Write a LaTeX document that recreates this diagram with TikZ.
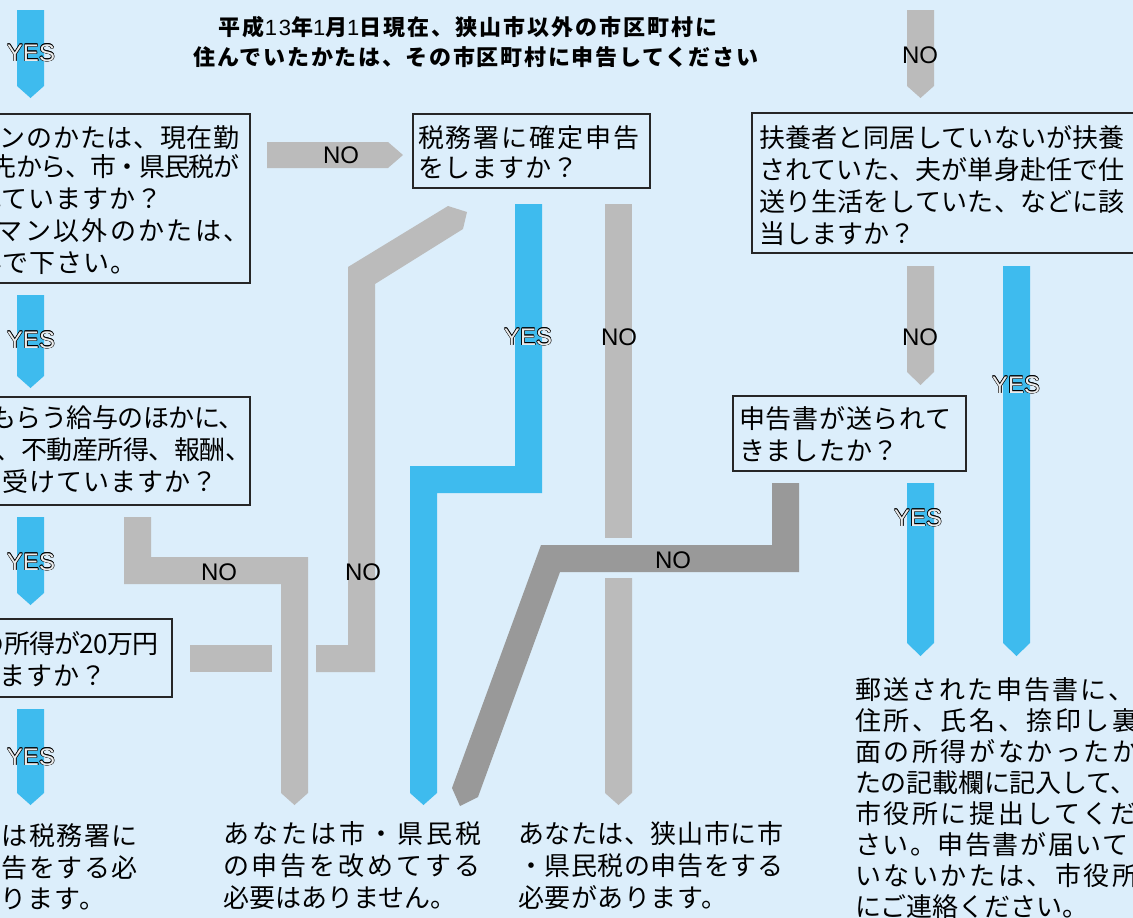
\documentclass[tikz,border=0pt]{standalone}
\usepackage{fontspec}
\usetikzlibrary{fit}
\setmainfont{Liberation Sans}
\newfontfamily\jp{Noto Sans CJK JP}
\definecolor{bg}{RGB}{220,238,251}
\definecolor{ablue}{RGB}{62,187,238}
\definecolor{agray}{RGB}{187,187,187}
\definecolor{adark}{RGB}{153,153,153}
\newlength\ow \setlength\ow{0.5pt}
\newcommand\outl[1]{\leavevmode\hbox{%
 \rlap{\kern\ow\textcolor{black}{#1}}%
 \rlap{\kern-\ow\textcolor{black}{#1}}%
 \rlap{\raisebox{\ow}{\textcolor{black}{#1}}}%
 \rlap{\raisebox{-\ow}{\textcolor{black}{#1}}}%
 \rlap{\kern0.7\ow\raisebox{0.7\ow}{\textcolor{black}{#1}}}%
 \rlap{\kern-0.7\ow\raisebox{0.7\ow}{\textcolor{black}{#1}}}%
 \rlap{\kern0.7\ow\raisebox{-0.7\ow}{\textcolor{black}{#1}}}%
 \rlap{\kern-0.7\ow\raisebox{-0.7\ow}{\textcolor{black}{#1}}}%
 \textcolor{white!92!black}{#1}}}
% name, x, centre y, pitch(px), hidden prefix, text   (font 26px = 19.5pt)
\newcommand\jline[6]{%
 \pgfmathsetmacro\jls{(#4-26)/0.26}%
 \node[anchor=base west,inner sep=0pt,outer sep=0pt] (#1) at (#2,#3+10)
  {\jp\fontsize{19.5pt}{19.5pt}\selectfont\edef\jtmp{\noexpand\addfontfeature{LetterSpace=\jls}}\jtmp\llap{#5}#6};}
\tikzset{
 blk/.style={fill=ablue,draw=none},
 gry/.style={fill=agray,draw=none},
 drk/.style={fill=adark,draw=none},
 qbox/.style={draw=black!85,line width=0.8pt,inner sep=0pt,fill=none},
 nolab/.style={font=\fontsize{18pt}{18pt}\selectfont,text=black,inner sep=0pt},
 yeslab/.style={font=\fontsize{18pt}{18pt}\selectfont,inner sep=0pt}
}
\begin{document}
\begin{tikzpicture}[x=0.75pt,y=-0.75pt]
\useasboundingbox (0,0) rectangle (1133,918);
\clip (0,0) rectangle (1133,918);
\fill[bg] (0,0) rectangle (1133,918);

% ---- title
\node[anchor=base,inner sep=0pt] (title1) at (468,35)
 {\fontsize{16.5pt}{16.5pt}\selectfont\addfontfeature{LetterSpace=8}{\jp\bfseries\addfontfeature{LetterSpace=9}平成}13{\jp\bfseries\addfontfeature{LetterSpace=9}年}1{\jp\bfseries\addfontfeature{LetterSpace=9}月}1{\jp\bfseries\addfontfeature{LetterSpace=9}日現在、狭山市以外の市区町村に}};
\node[anchor=base,inner sep=0pt] (title2) at (476,65)
 {\jp\bfseries\fontsize{16.5pt}{16.5pt}\selectfont\addfontfeature{LetterSpace=7.7}住んでいたかたは、その市区町村に申告してください};

% ---- block arrows
\coordinate (a1) at (17,10);
\fill[blk] (a1) -- (44,10) -- (44,86) -- (30.5,98) -- (17,86) -- cycle;
\fill[blk] (17,295) -- (44,295) -- (44,376) -- (30.5,388) -- (17,376) -- cycle;
\fill[blk] (17,517) -- (44,517) -- (44,593) -- (30.5,605) -- (17,593) -- cycle;
\fill[blk] (17,709) -- (44,709) -- (44,793) -- (30.5,805) -- (17,793) -- cycle;
\fill[gry] (907,10) -- (934,10) -- (934,86) -- (920.5,98) -- (907,86) -- cycle;
\fill[gry] (267,142) -- (388,142) -- (403,155) -- (388,168) -- (267,168) -- cycle;
\fill[gry] (124,517) -- (151,517) -- (151,557) -- (308,557) -- (308,793) -- (294.5,805) -- (281,793) -- (281,584) -- (124,584) -- cycle;
\fill[gry] (190,645) rectangle (272,672);
\fill[gry] (316,645) -- (348,645) -- (348,267) -- (448,206) -- (467,212) -- (463,229) -- (375,284) -- (375,672) -- (316,672) -- cycle;
\fill[blk] (515,204) -- (542,204) -- (542,493) -- (437,493) -- (437,793) -- (423.5,805) -- (410,793) -- (410,466) -- (515,466) -- cycle;
\fill[gry] (605,204) rectangle (632,538);
\fill[gry] (605,578) -- (632,578) -- (632,793) -- (618.5,805) -- (605,793) -- cycle;
\fill[drk] (772,483) -- (799,483) -- (799,572) -- (560,572) -- (478,797) -- (460,806) -- (452,788) -- (541,545) -- (772,545) -- cycle;
\fill[gry] (907,266) -- (934,266) -- (934,372) -- (920.5,385) -- (907,372) -- cycle;
\fill[blk] (1003,266) -- (1030,266) -- (1030,643) -- (1016.5,656) -- (1003,643) -- cycle;
\fill[blk] (907,483) -- (934,483) -- (934,643) -- (920.5,656) -- (907,643) -- cycle;

% ---- boxes
\node[qbox,fit={(-200,114)(250,283)}] (q1) {};
\node[qbox,fit={(-200,397)(250,505)}] (q2) {};
\node[qbox,fit={(-200,619)(172,697)}] (q3) {};
\node[qbox,fit={(413,114)(650,188)}] (q4) {};
\node[qbox,fit={(752,113)(1145,253)}] (q5) {};
\node[qbox,fit={(733,396)(966,471)}] (q6) {};

% ---- box texts
\jline{q1a}{0}{137}{26.7}{サラリーマ}{ンのかたは、現在勤}
\jline{q1b}{16}{166}{24.7}{務先}{から、市・県民税が}
\jline{q1c}{2}{198}{27}{差し引かれ}{ていますか？}
\jline{q1d}{-3}{230}{28.3}{サラリー}{マン以外のかたは、}
\jline{q1e}{3}{262}{27}{ＮＯへ進ん}{で下さい。}
\jline{q2a}{-10}{417}{25.5}{勤務先から}{もらう給与のほかに、}
\jline{q2b}{21}{449}{25.5}{配当、}{不動産所得、報酬、}
\jline{q2c}{3}{481}{27}{年金などを}{受けていますか？}
\jline{q3a}{4}{643}{25.3}{給与以外の}{所得が20万円}
\jline{q3b}{0}{675}{27}{を超え}{ますか？}
\jline{q4a}{418}{137}{27.9}{}{税務署に確定申告}
\jline{q4b}{418}{167}{27}{}{をしますか？}
\jline{q5a}{759}{137}{26.2}{}{扶養者と同居していないが扶養}
\jline{q5b}{759}{169}{26.2}{}{されていた、夫が単身赴任で仕}
\jline{q5c}{759}{201}{26.2}{}{送り生活をしていた、などに該}
\jline{q5d}{759}{233}{26.2}{}{当しますか？}
\jline{q6a}{739}{418}{26.8}{}{申告書が送られて}
\jline{q6b}{739}{450}{26.8}{}{きましたか？}

% ---- result texts
\jline{r1a}{2}{835}{27.5}{あなた}{は税務署に}
\jline{r1b}{2}{867}{27.5}{確定申}{告をする必}
\jline{r1c}{1}{898}{27}{要があ}{ります。}
\jline{r2a}{223}{833}{29.1}{}{あなたは市・県民税}
\jline{r2b}{223}{865}{29}{}{の申告を改めてする}
\jline{r2c}{223}{897}{26}{}{必要はありません。}
\jline{r3a}{518}{833}{26.6}{}{あなたは、狭山市に市}
\jline{r3b}{518}{865}{26.6}{}{・県民税の申告をする}
\jline{r3c}{518}{897}{26.6}{}{必要があります。}
\jline{r4a}{855}{689}{28.2}{}{郵送された申告書に、}
\jline{r4b}{855}{720}{28.6}{}{住所、氏名、捺印し裏}
\jline{r4c}{855}{751}{28.6}{}{面の所得がなかったか}
\jline{r4d}{855}{782}{25.8}{}{たの記載欄に記入して、}
\jline{r4e}{855}{813}{28.6}{}{市役所に提出してくだ}
\jline{r4f}{855}{844}{27.6}{}{さい。申告書が届いて}
\jline{r4g}{855}{875}{28.6}{}{いないかたは、市役所}
\jline{r4h}{855}{906}{26}{}{にご連絡ください。}

% ---- labels
\node[yeslab] (y1) at (31,53) {\outl{YES}};
\node[yeslab] (y2) at (31,340) {\outl{YES}};
\node[yeslab] (y3) at (31,562) {\outl{YES}};
\node[yeslab] (y4) at (31,757) {\outl{YES}};
\node[yeslab] (y5) at (528,337) {\outl{YES}};
\node[yeslab] (y6) at (918,518) {\outl{YES}};
\node[yeslab] (y7) at (1016,385) {\outl{YES}};
\node[nolab] (n1) at (920,55) {NO};
\node[nolab] (n2) at (341,155) {NO};
\node[nolab] (n3) at (219,572) {NO};
\node[nolab] (n4) at (363,572) {NO};
\node[nolab] (n5) at (619,337) {NO};
\node[nolab] (n6) at (673,560) {NO};
\node[nolab] (n7) at (920,337) {NO};
\end{tikzpicture}
\end{document}
